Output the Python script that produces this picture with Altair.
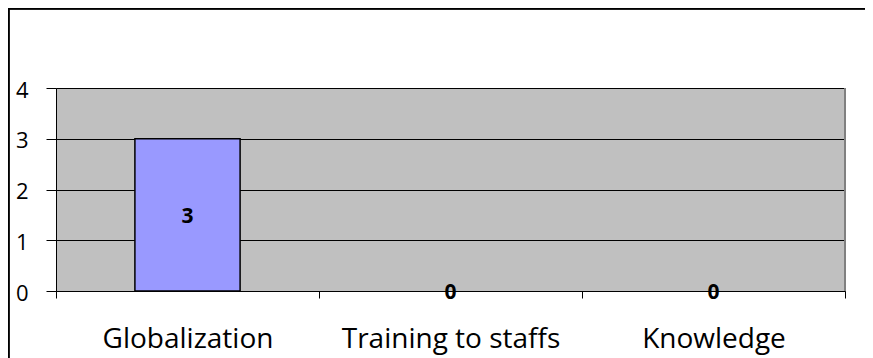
import altair as alt
import pandas as pd

categories = ["Globalization", "Training to staffs", "Knowledge"]
values = [3, 0, 0]
y_ticks = [0, 1, 2, 3, 4]

df = pd.DataFrame({"category": categories, "value": values, "idx": list(range(len(categories)))})

W, H = 789, 203
PAD_L, PAD_T, PAD_R, PAD_B = 48, 80, 20, 67
FONT = "Open Sans"

label_expr = " : ".join(
    [f"datum.value == {i + 0.5} ? '{c}'" for i, c in enumerate(categories)]
) + " : ''"

x_scale = alt.Scale(domain=[0, len(categories)], nice=False, zero=True)
y_scale = alt.Scale(domain=[0, 4], nice=False)

x_axis = alt.Axis(
    values=[i * 0.5 for i in range(2 * len(categories) + 1)],
    labelExpr=label_expr,
    title=None,
    grid=False,
    domainColor="black",
    domainWidth=1,
    tickColor={"condition": {"test": "datum.value % 1 != 0", "value": "transparent"}, "value": "black"},
    tickSize=7,
    labelFont=FONT,
    labelFontSize=28,
    labelColor="black",
    labelBaseline="alphabetic",
    labelPadding=49,
    labelOverlap=False,
    labelFlush=False,
    labelBound=False,
    labelLimit=500,
)

y_axis = alt.Axis(
    values=y_ticks,
    title=None,
    grid=True,
    gridColor="black",
    gridWidth=1,
    gridOpacity=1,
    domainColor="black",
    tickColor="black",
    tickSize=10,
    labelFont=FONT,
    labelFontSize=22,
    labelColor="black",
    labelPadding=18,
    labelOffset=2,
    format="d",
)

base = alt.Chart(df).transform_calculate(
    x0="datum.idx + 0.3", x1="datum.idx + 0.7", mid="datum.value / 2", xc="datum.idx + 0.5"
)

bars = base.transform_filter("datum.value > 0").mark_bar(
    color="#9999FF", stroke="black", strokeWidth=1.5
).encode(
    x=alt.X("x0:Q", scale=x_scale, axis=x_axis),
    x2="x1:Q",
    y=alt.Y("value:Q", scale=y_scale, axis=y_axis),
    y2=alt.datum(0),
)

labels = base.mark_text(font=FONT, fontSize=21, fontWeight="bold", color="black", baseline="middle", dy=2).encode(
    x=alt.X("xc:Q", scale=x_scale),
    y=alt.Y("mid:Q", scale=y_scale),
    text=alt.Text("value:Q", format="d"),
)

right_edge = alt.Chart(df).mark_rule(color="#808080", strokeWidth=2).encode(
    x=alt.datum(len(categories), scale=x_scale),
    y=alt.value(0),
    y2=alt.value(H),
)

frame_left = alt.Chart(df).mark_rule(color="black", strokeWidth=1.5).encode(
    x=alt.value(-PAD_L + 0.75), y=alt.value(-PAD_T), y2=alt.value(H + PAD_B)
)
frame_top = alt.Chart(df).mark_rule(color="black", strokeWidth=1.5).encode(
    y=alt.value(-PAD_T + 0.75), x=alt.value(-PAD_L), x2=alt.value(W + PAD_R)
)

chart = alt.layer(right_edge, bars, labels, frame_left, frame_top).properties(
    width=W,
    height=H,
    autosize=alt.AutoSizeParams(type="none"),
    padding={"left": PAD_L, "top": PAD_T, "right": PAD_R, "bottom": PAD_B},
    background="white",
).configure_view(fill="#C0C0C0", stroke=None)

chart.save("out.html", embed_options={"renderer": "svg", "actions": False})
